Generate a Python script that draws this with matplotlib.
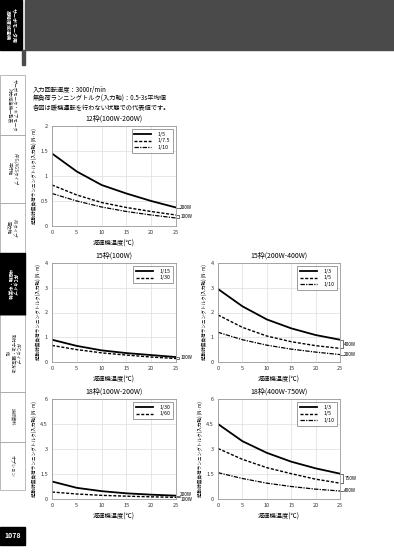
import matplotlib
matplotlib.use("Agg")
import matplotlib.pyplot as plt
from matplotlib.patches import Rectangle

plt.rcParams["font.family"] = ["Noto Sans CJK JP", "DejaVu Sans"]

W, H = 394, 557

temp = [0, 5, 10, 15, 20, 25]

# 12枠
c12_r5 = [1.45, 1.09, 0.82, 0.65, 0.50, 0.37]
c12_r75 = [0.82, 0.62, 0.47, 0.37, 0.29, 0.22]
c12_r10 = [0.65, 0.50, 0.38, 0.29, 0.22, 0.16]
# 15枠 100W
c15a_r15 = [0.90, 0.65, 0.47, 0.36, 0.28, 0.20]
c15a_r30 = [0.67, 0.50, 0.37, 0.28, 0.20, 0.14]
# 15枠 200W-400W
c15b_r3 = [2.95, 2.25, 1.72, 1.36, 1.09, 0.90]
c15b_r5 = [1.90, 1.40, 1.05, 0.82, 0.66, 0.55]
c15b_r10 = [1.20, 0.90, 0.68, 0.52, 0.40, 0.30]
# 18枠 100W-200W
c18a_r30 = [1.05, 0.67, 0.47, 0.34, 0.26, 0.20]
c18a_r60 = [0.42, 0.30, 0.22, 0.17, 0.13, 0.10]
# 18枠 400W-750W
c18b_r3 = [4.50, 3.47, 2.77, 2.24, 1.84, 1.52]
c18b_r5 = [3.03, 2.38, 1.88, 1.52, 1.19, 0.95]
c18b_r10 = [1.58, 1.23, 0.95, 0.75, 0.59, 0.48]

notes = [
    "入力回転速度：3000r/min",
    "無負荷ランニングトルク(入力軸)：0.5-3s平均値",
    "各図は暖機運転を行わない状態での代表値です。",
]
tabs = [
    (75, 135, "サーボモータ・ギアモータ\n対応減速機一覧表", False),
    (135, 203, "APG/AGSタイプ\n平行軸", False),
    (203, 253, "AXタイプ\n直交軸", False),
    (253, 315, "AFCタイプ\n中空軸・中実軸", True),
    (315, 392, "AFCタイプ\n取付寸法・選定方法\n他", False),
    (392, 442, "技術資料", False),
    (442, 490, "オプション", False),
]

STYLES = [
    dict(color="black", lw=1.3, ls="-"),
    dict(color="black", lw=1.0, ls=(0, (2.2, 1.2))),
    dict(color="black", lw=0.9, ls=(0, (3.5, 1.0, 1.0, 1.0))),
]

fig = plt.figure(figsize=(W / 100, H / 100), dpi=100)


def px_axes(x0, y0, x1, y1):
    return fig.add_axes([x0 / W, 1 - y1 / H, (x1 - x0) / W, (y1 - y0) / H])


def fig_rect(x0, y0, x1, y1, **kw):
    fig.patches.append(Rectangle((x0 / W, 1 - y1 / H), (x1 - x0) / W, (y1 - y0) / H,
                                 transform=fig.transFigure, **kw))


def bracket(ax, y1, y2, label, ty=None):
    tr = ax.get_yaxis_transform()
    if y2 is None:
        ax.plot([1.0, 1.03], [y1, y1], color="black", lw=0.4, transform=tr, clip_on=False)
        mid = y1
    else:
        ax.plot([1.0, 1.025, 1.025, 1.0], [y1, y1, y2, y2], color="black", lw=0.4,
                transform=tr, clip_on=False)
        mid = (y1 + y2) / 2
    ax.text(1.035, mid if ty is None else ty, label, transform=tr, fontsize=3.4,
            va="center", ha="left")


def panel(box, title, ymax, yticks, series, labels, marks):
    ax = px_axes(*box)
    for ys, lab, st in zip(series, labels, STYLES):
        ax.plot(temp, ys, label=lab, **st)
    ax.set_xlim(0, 25)
    ax.set_ylim(0, ymax)
    ax.set_xticks(temp)
    ax.set_yticks(yticks)
    ax.set_yticklabels([f"{t:g}" for t in yticks])
    ax.grid(color="#dddddd", lw=0.5)
    for sp in ax.spines.values():
        sp.set_color("#999999")
        sp.set_linewidth(0.6)
    ax.tick_params(length=0, labelsize=4.0, pad=3, colors="#333333")
    ax.set_title(title, fontsize=5, pad=4)
    ax.set_xlabel("減速機温度(℃)", fontsize=4.5, labelpad=3)
    ax.set_ylabel("起動時無負荷ランニングトルク(入力軸) (N·m)", fontsize=3.3, labelpad=2.5)
    leg = ax.legend(loc="upper right", fontsize=3.8, frameon=True, fancybox=False,
                    handlelength=3.2, borderpad=0.5, labelspacing=0.3, handletextpad=1.2,
                    borderaxespad=0.6)
    leg.get_frame().set_edgecolor("#555555")
    leg.get_frame().set_linewidth(0.5)
    for m in marks:
        bracket(ax, *m)
    return ax


panel((52, 126, 176, 226), "12枠(100W-200W)", 2, [0, 0.5, 1, 1.5, 2],
      [c12_r5, c12_r75, c12_r10], ["1/5", "1/7.5", "1/10"],
      [(c12_r5[-1], None, "200W"), (c12_r75[-1], c12_r10[-1], "100W")])
panel((52, 263, 176, 362), "15枠(100W)", 4, [0, 1, 2, 3, 4],
      [c15a_r15, c15a_r30], ["1/15", "1/30"],
      [(c15a_r15[-1], c15a_r30[-1], "100W")])
panel((218, 263, 340, 362), "15枠(200W-400W)", 4, [0, 1, 2, 3, 4],
      [c15b_r3, c15b_r5, c15b_r10], ["1/3", "1/5", "1/10"],
      [(c15b_r3[-1], c15b_r5[-1], "400W"), (c15b_r10[-1], None, "200W")])
panel((52, 399, 176, 499), "18枠(100W-200W)", 6, [0, 1.5, 3, 4.5, 6],
      [c18a_r30, c18a_r60], ["1/30", "1/60"],
      [(c18a_r30[-1], None, "200W", 0.28), (c18a_r60[-1], None, "100W", -0.05)])
panel((218, 399, 340, 499), "18枠(400W-750W)", 6, [0, 1.5, 3, 4.5, 6],
      [c18b_r3, c18b_r5, c18b_r10], ["1/3", "1/5", "1/10"],
      [(c18b_r3[-1], c18b_r5[-1], "750W"), (c18b_r10[-1], None, "400W")])

# header
fig_rect(0, 0, 22, 50, color="black")
fig_rect(25, 0, W, 50, color="#4a4a4a")
fig_rect(22, 50, 25, 65, color="#4a4a4a")
fig.text(11 / W, 1 - 25 / H, "サーボモータ用\n高精度減速機", rotation=-90, color="white",
         fontsize=3.6, ha="center", va="center", fontweight="bold", linespacing=1.2)

# notes
for i, line in enumerate(notes):
    fig.text(33 / W, 1 - (90 + i * 9) / H, line, fontsize=4.5, va="center", ha="left")

# side tabs
for y0, y1, txt, active in tabs:
    if active:
        fig_rect(0, y0, 25, y1, color="black")
    else:
        fig_rect(0, y0, 25, y1, facecolor="white", edgecolor="#888888", lw=0.4)
    fig.text(12.5 / W, 1 - (y0 + y1) / 2 / H, txt, rotation=-90, fontsize=3.2,
             color="white" if active else "#333333", ha="center", va="center",
             linespacing=1.2, fontweight="bold" if active else "normal")

# page number
fig_rect(0, 527, 25, 545, color="black")
fig.text(12.5 / W, 1 - 536 / H, "1078", color="white", fontsize=5, fontweight="bold",
         ha="center", va="center")

fig.savefig("out.png", dpi=100)
